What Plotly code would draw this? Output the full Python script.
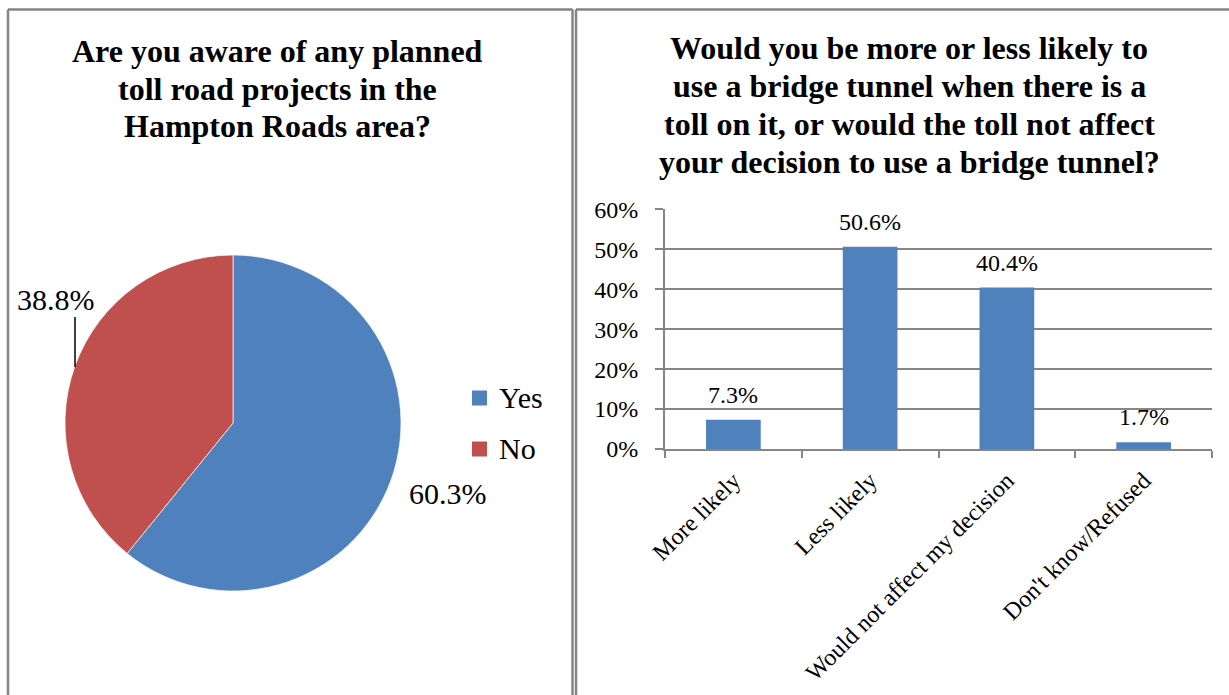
import plotly.graph_objects as go

# ---- data ----
pie_labels = ["Yes", "No"]
pie_values = [60.3, 38.8]          # percent
pie_colors = ["#4F81BD", "#C0504D"]

bar_categories = ["More likely", "Less likely", "Would not affect my decision", "Don't know/Refused"]
bar_values = [0.073, 0.506, 0.404, 0.017]   # share of respondents

y_tick_values = [0, 0.1, 0.2, 0.3, 0.4, 0.5, 0.6]
y_tick_labels = ["0%", "10%", "20%", "30%", "40%", "50%", "60%"]

left_title = ["Are you aware of any planned", "toll road projects in the", "Hampton Roads area?"]
right_title = ["Would you be more or less likely to", "use a bridge tunnel when there is a",
               "toll on it, or would the toll not affect", "your decision to use a bridge tunnel?"]

# ---- page geometry (pixels) ----
W, H = 1229, 695
FONT = "Liberation Serif, Times New Roman, serif"
GRID = "#868686"
BORDER = "#848484"


def px(x):
    return x / W


def py(y):
    return 1 - y / H


fig = go.Figure()

# pie: awareness of toll projects
fig.add_trace(go.Pie(
    labels=pie_labels, values=pie_values, sort=False, direction="clockwise", rotation=0,
    marker=dict(colors=pie_colors, line=dict(color="white", width=0.7)),
    textinfo="none", showlegend=False, automargin=False,
    domain=dict(x=[px(65), px(401)], y=[py(591), py(255)]),
))

# bars: likelihood of using a tolled bridge tunnel
fig.add_trace(go.Bar(
    x=bar_categories, y=bar_values, marker=dict(color="#4F81BD", line=dict(width=0)),
    showlegend=False, xaxis="x", yaxis="y",
))

annotations = []
shapes = []

# panel titles, one annotation per line for tight line spacing
for i, line in enumerate(left_title):
    annotations.append(dict(text=line, x=px(277), y=py(51 + i * 37.5), xref="paper", yref="paper",
                            xanchor="center", yanchor="middle", showarrow=False,
                            font=dict(family=FONT, size=32, color="black", weight="bold")))
for i, line in enumerate(right_title):
    annotations.append(dict(text=line, x=px(909), y=py(48 + i * 38), xref="paper", yref="paper",
                            xanchor="center", yanchor="middle", showarrow=False,
                            font=dict(family=FONT, size=32, color="black", weight="bold")))

# pie value labels
annotations.append(dict(text=f"{pie_values[1]:.1f}%", x=px(56), y=py(299), xref="paper", yref="paper",
                        xanchor="center", yanchor="middle", showarrow=False,
                        font=dict(family=FONT, size=30, color="black")))
annotations.append(dict(text=f"{pie_values[0]:.1f}%", x=px(448), y=py(493), xref="paper", yref="paper",
                        xanchor="center", yanchor="middle", showarrow=False,
                        font=dict(family=FONT, size=30, color="black")))
shapes.append(dict(type="line", xref="paper", yref="paper", x0=px(75), x1=px(75), y0=py(317), y1=py(367),
                   line=dict(color="black", width=1.5)))

# pie legend
for i, (lab, col) in enumerate(zip(pie_labels, pie_colors)):
    yc = 398 + i * 51
    shapes.append(dict(type="rect", xref="paper", yref="paper", x0=px(472), x1=px(487),
                       y0=py(yc + 7.5), y1=py(yc - 7.5), fillcolor=col, line=dict(width=0)))
    annotations.append(dict(text=lab, x=px(497), y=py(yc), xref="paper", yref="paper",
                            xanchor="left", yanchor="middle", showarrow=False,
                            font=dict(family=FONT, size=30, color="black")))

# bar value labels
for cat, v in zip(bar_categories, bar_values):
    annotations.append(dict(text=f"{v * 100:.1f}%", x=cat, y=v, xref="x", yref="y",
                            xanchor="center", yanchor="bottom", yshift=10, showarrow=False,
                            font=dict(family=FONT, size=24, color="black")))

# panel borders
shapes += [
    dict(type="line", xref="paper", yref="paper", x0=px(8), x1=px(8), y0=py(9.5), y1=0,
         line=dict(color=BORDER, width=2.5)),
    dict(type="line", xref="paper", yref="paper", x0=px(8), x1=px(572.5), y0=py(9.5), y1=py(9.5),
         line=dict(color=BORDER, width=2.5)),
    dict(type="line", xref="paper", yref="paper", x0=px(572.5), x1=px(572.5), y0=py(9.5), y1=0,
         line=dict(color=BORDER, width=2.5)),
    dict(type="line", xref="paper", yref="paper", x0=px(576), x1=px(576), y0=py(9.5), y1=0,
         line=dict(color=BORDER, width=2.5)),
    dict(type="line", xref="paper", yref="paper", x0=px(576), x1=1, y0=py(9.5), y1=py(9.5),
         line=dict(color=BORDER, width=2.5)),
]

fig.update_layout(
    width=W, height=H,
    margin=dict(l=0, r=0, t=0, b=0, autoexpand=False),
    paper_bgcolor="white", plot_bgcolor="white",
    bargap=0.6,
    xaxis=dict(domain=[px(665), px(1212)], type="category", automargin=False,
               showline=True, linecolor=GRID, linewidth=2,
               ticks="outside", tickson="boundaries", ticklen=7, tickcolor=GRID, tickwidth=2,
               tickangle=-45, ticklabelstandoff=6, showgrid=False,
               tickfont=dict(family=FONT, size=24, color="black")),
    yaxis=dict(domain=[py(449), py(209.3)], range=[0, 0.6], automargin=False,
               tickvals=y_tick_values, ticktext=y_tick_labels,
               showline=True, linecolor=GRID, linewidth=2,
               ticks="outside", ticklen=8, tickcolor=GRID, tickwidth=2,
               showgrid=True, gridcolor=GRID, gridwidth=2, zeroline=False,
               ticklabelstandoff=12,
               tickfont=dict(family=FONT, size=24, color="black")),
    annotations=annotations,
    shapes=shapes,
)

fig.write_html("out.html")
